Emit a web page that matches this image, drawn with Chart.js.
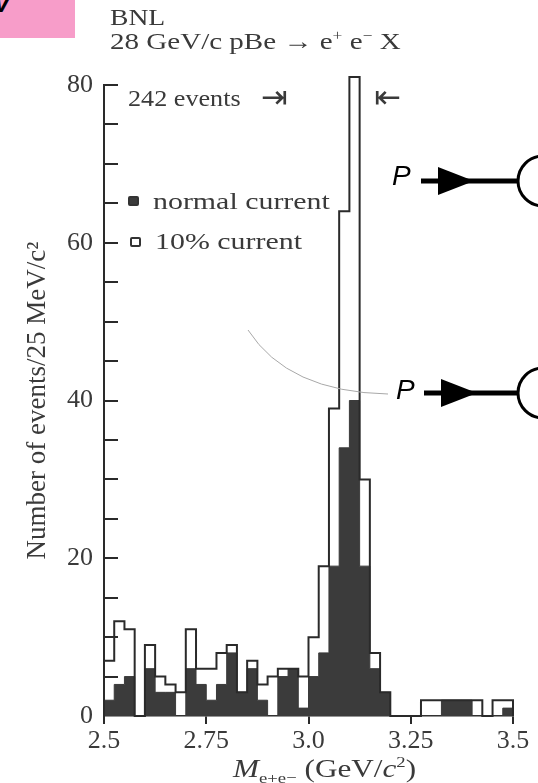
<!DOCTYPE html>
<html>
<head>
<meta charset="utf-8">
<script src="https://cdn.jsdelivr.net/npm/chart.js@4.4.1/dist/chart.umd.min.js"></script>
<style>
  body { margin: 0; background: #fff; }
  #wrap { position: relative; width: 538px; height: 783px; overflow: hidden;
          font-family: "Liberation Serif", "DejaVu Serif", serif; color: #3a3a3a; }
  #chart { position: absolute; left: 0; top: 0; }
  .txt { position: absolute; white-space: nowrap; line-height: 1; transform-origin: 0 50%; }
  .pink { position: absolute; left: 0; top: 0; width: 75px; height: 38px; background: #f79dc9; overflow: hidden; }
  .pink span { position: absolute; left: -7px; top: -12px; font: italic bold 26px "Liberation Sans", sans-serif; color: #000; }
  .plab { position: absolute; font: italic 28px "Liberation Sans", sans-serif; color: #000; line-height: 1; }
  .mark { position: absolute; width: 7px; height: 6px; border: 2px solid #333; border-radius: 2px; }
  sub, sup { font-size: 60%; line-height: 0; }
</style>
</head>
<body>
<div id="wrap">
  <canvas id="chart" width="538" height="783"></canvas>

  <div class="pink"><span>V</span></div>

  <div class="txt" style="left:110px; top:5px; font-size:24px; transform:scaleX(1.15);">BNL</div>
  <div class="txt" style="left:110px; top:29px; font-size:24px; transform:scaleX(1.21);">28 GeV/c pBe &rarr; e<sup>+</sup> e<sup>&minus;</sup> X</div>

  <div class="txt" style="left:128px; top:86px; font-size:24px; transform:scaleX(1.09);">242 events</div>
  <div class="txt" style="left:261px; top:81px; font-size:32px; font-family:'DejaVu Sans';">&#8677;</div>
  <div class="txt" style="left:374px; top:81px; font-size:32px; font-family:'DejaVu Sans';">&#8676;</div>

  <div id="legend"></div>

  <div class="txt" style="left:233px; top:756px; font-size:26px; transform:scaleX(1.2);"><i>M</i><sub>e+e&minus;</sub> (GeV/<i>c</i><sup>2</sup>)</div>

  <div class="plab" style="left:392px; top:162px;">P</div>
  <div class="plab" style="left:396px; top:376px;">P</div>
  <svg style="position:absolute; left:0; top:0;" width="538" height="783">
    <path d="M248 330 Q288 392 388 394" stroke="#a8a8a8" stroke-width="1" fill="none"/>
    <line x1="421" y1="181" x2="519" y2="181" stroke="#000" stroke-width="5"/>
    <polygon points="438,167 438,195 474,181" fill="#000"/>
    <circle cx="543" cy="181" r="25" stroke="#000" stroke-width="3" fill="none"/>
    <line x1="424" y1="393" x2="519" y2="393" stroke="#000" stroke-width="5"/>
    <polygon points="441,379 441,407 477,393" fill="#000"/>
    <circle cx="543" cy="393" r="25" stroke="#000" stroke-width="3" fill="none"/>
  </svg>
</div>

<script>
// bins of 25 MeV/c^2, low edges (GeV/c^2)
var binLow = [2.500, 2.525, 2.550, 2.575, 2.600, 2.625, 2.650, 2.675, 2.700, 2.725,
              2.750, 2.775, 2.800, 2.825, 2.850, 2.875, 2.900, 2.925, 2.950, 2.975,
              3.000, 3.025, 3.050, 3.075, 3.100, 3.125, 3.150, 3.175, 3.200, 3.225,
              3.250, 3.275, 3.300, 3.325, 3.350, 3.375, 3.400, 3.425, 3.450, 3.475];
var binHigh = 3.5;

// events per bin
var normalCurrent = [2, 4, 5, 0, 6, 3, 3, 0, 6, 4,
                     2, 4, 8, 3, 6, 2, 0, 5, 6, 1,
                     5, 8, 19, 34, 40, 19, 6, 3, 0, 0,
                     0, 0, 0, 2, 2, 2, 0, 0, 0, 1];
var tenPctCurrent = [7, 12, 11, 0, 9, 5, 4, 3, 11, 6,
                     6, 8, 9, 3, 7, 4, 5, 6, 6, 5,
                     10, 19, 39, 64, 81, 30, 8, 3, 0, 0,
                     0, 2, 2, 2, 2, 2, 2, 0, 2, 2];

var seriesNames = ['normal current', '10% current'];

var xTickValues = [2.5, 2.75, 3.0, 3.25, 3.5];
var xTickLabels = ['2.5', '2.75', '3.0', '3.25', '3.5'];
var yMinorTicks = [5, 10, 15, 20, 25, 30, 35, 40, 45, 50, 55, 60, 65, 70, 75, 80];

var ink = '#2a2a2a';
var textCol = '#3a3a3a';

// histogram outline as step points on bin edges
function stepPoints(counts) {
  var pts = [{x: binLow[0], y: 0}];
  for (var i = 0; i < counts.length; i++) {
    pts.push({x: binLow[i], y: counts[i]});
  }
  pts.push({x: binHigh, y: 0});
  return pts;
}

// legend in the plot corner
var legend = document.getElementById('legend');
legend.innerHTML =
  '<span class="mark" style="left:128px; top:196px; background:#3b3b3b;"></span>' +
  '<div class="txt" style="left:153px; top:190px; font-size:23px; transform:scaleX(1.3);">' + seriesNames[0] + '</div>' +
  '<span class="mark" style="left:130px; top:237px;"></span>' +
  '<div class="txt" style="left:155px; top:230px; font-size:23px; transform:scaleX(1.3);">' + seriesNames[1] + '</div>';

// short ticks on the inside of the y axis
var innerTicks = {
  id: 'innerTicks',
  afterDraw: function(chart) {
    var ctx = chart.ctx;
    var y = chart.scales.y;
    var left = chart.chartArea.left;
    ctx.save();
    ctx.strokeStyle = ink;
    ctx.lineWidth = 2;
    yMinorTicks.forEach(function(v) {
      var py = Math.round(y.getPixelForValue(v));
      ctx.beginPath();
      ctx.moveTo(left, py);
      ctx.lineTo(left + 14, py);
      ctx.stroke();
    });
    ctx.restore();
  }
};

var ctx = document.getElementById('chart').getContext('2d');
var chart = new Chart(ctx, {
  type: 'line',
  data: {
    datasets: [{
      label: seriesNames[1],
      data: stepPoints(tenPctCurrent),
      stepped: true,
      borderColor: ink,
      borderWidth: 2,
      fill: false,
      pointRadius: 0,
      clip: false
    }, {
      label: seriesNames[0],
      data: stepPoints(normalCurrent),
      stepped: true,
      borderColor: '#3b3b3b',
      borderWidth: 1,
      backgroundColor: '#3b3b3b',
      fill: 'origin',
      pointRadius: 0
    }]
  },
  options: {
    responsive: false,
    animation: false,
    layout: { padding: { top: 85, right: 25, left: 0, bottom: 0 } },
    plugins: {
      legend: { display: false },
      tooltip: { enabled: false }
    },
    scales: {
      x: {
        type: 'linear',
        min: 2.5,
        max: 3.5,
        afterBuildTicks: function(scale) {
          scale.ticks = xTickValues.map(function(v) { return {value: v}; });
        },
        afterFit: function(scale) { scale.height = 67; },
        ticks: {
          autoSkip: false,
          maxRotation: 0,
          padding: 2,
          color: textCol,
          font: { family: 'Liberation Serif', size: 26 },
          callback: function(value, index) { return xTickLabels[index]; }
        },
        grid: { drawOnChartArea: false, drawTicks: true, tickLength: 8, color: ink, lineWidth: 2 },
        border: { color: ink, width: 1.5 }
      },
      y: {
        min: 0,
        max: 80,
        afterFit: function(scale) { scale.width = 104; },
        ticks: {
          stepSize: 20,
          padding: 11,
          color: textCol,
          font: { family: 'Liberation Serif', size: 26 }
        },
        grid: { drawOnChartArea: false, drawTicks: false },
        border: { color: ink, width: 2 },
        title: {
          display: true,
          text: 'Number of events/25 MeV/c\u00B2',
          color: textCol,
          font: { family: 'Liberation Serif', size: 27 },
          padding: { top: 22, bottom: 0 }
        }
      }
    }
  },
  plugins: [innerTicks]
});
</script>
</body>
</html>
